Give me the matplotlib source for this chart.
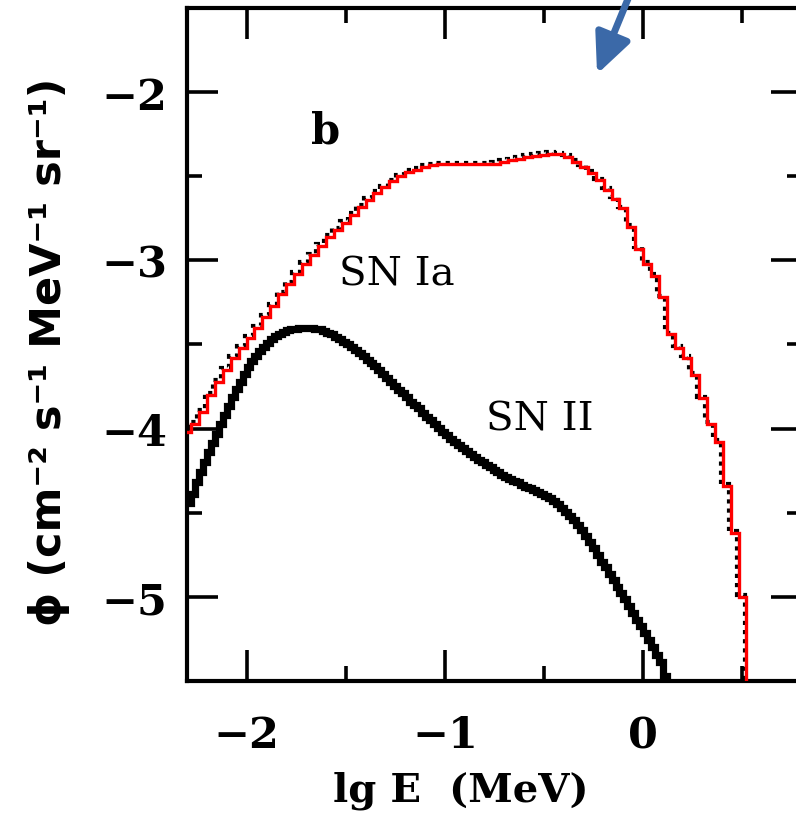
import numpy as np
import matplotlib
matplotlib.use("Agg")
import matplotlib.pyplot as plt
import matplotlib.transforms as mtransforms

# SN Ia histogram: bin edges in lg E (MeV), 0.04 dex wide
edges_ia = np.round(np.arange(-2.32, 0.561, 0.04), 3)

# SN Ia flux per bin, lg phi
sn_ia = [
    -4.02, -3.97, -3.90, -3.80, -3.72, -3.65, -3.58, -3.52, -3.46, -3.40,
    -3.335, -3.27, -3.20, -3.14, -3.08, -3.02, -2.97, -2.915, -2.86, -2.82,
    -2.775, -2.73, -2.68, -2.64, -2.60, -2.565, -2.53, -2.50, -2.475, -2.46,
    -2.445, -2.435, -2.43, -2.43, -2.43, -2.43, -2.43, -2.43, -2.43, -2.425,
    -2.415, -2.405, -2.395, -2.385, -2.378, -2.372, -2.365, -2.37, -2.385, -2.415,
    -2.445, -2.48, -2.525, -2.58, -2.635, -2.69, -2.80, -2.93, -3.02, -3.09,
    -3.22, -3.44, -3.52, -3.58, -3.68, -3.82, -3.97, -4.08, -4.34, -4.62,
    -5.00, -6.00,
]

# SN II flux per 0.02 dex bin starting at lg E = -2.30, lg phi
sn_ii = [
    -4.44, -4.39, -4.32, -4.26, -4.20, -4.14, -4.085, -4.03, -3.975, -3.92,
    -3.865, -3.815, -3.765, -3.72, -3.675, -3.635, -3.60, -3.57, -3.54, -3.515,
    -3.49, -3.47, -3.45, -3.435, -3.425, -3.415, -3.41, -3.405, -3.40, -3.40,
    -3.40, -3.40, -3.405, -3.41, -3.42, -3.43, -3.44, -3.455, -3.47, -3.485,
    -3.50, -3.515, -3.53, -3.55, -3.57, -3.59, -3.61, -3.63, -3.65, -3.675,
    -3.70, -3.72, -3.745, -3.77, -3.79, -3.815, -3.84, -3.86, -3.88, -3.905,
    -3.93, -3.95, -3.975, -3.995, -4.02, -4.04, -4.06, -4.08, -4.10, -4.115,
    -4.135, -4.15, -4.17, -4.185, -4.20, -4.215, -4.23, -4.245, -4.26, -4.275,
    -4.285, -4.30, -4.31, -4.32, -4.335, -4.345, -4.355, -4.365, -4.375, -4.39,
    -4.40, -4.415, -4.43, -4.45, -4.47, -4.495, -4.52, -4.545, -4.575, -4.605,
    -4.64, -4.675, -4.71, -4.75, -4.79, -4.825, -4.865, -4.90, -4.94, -4.975,
    -5.015, -5.055, -5.095, -5.135, -5.175, -5.215, -5.255, -5.30, -5.345, -5.39,
    -5.47, -5.60,
]
edges_ii = np.round(-2.30 + 0.02 * np.arange(len(sn_ii) + 1), 3)

x_ticks = [-2, -1, 0]
y_ticks = [-2, -3, -4, -5]

W, H, DPI = 796, 820, 100
fig = plt.figure(figsize=(W / DPI, H / DPI), dpi=DPI)
ax = fig.add_axes([187 / W, (H - 682) / H, 615 / W, 673 / H])

ax.set_xlim(-2.3, 0.8)
ax.set_ylim(-5.5, -1.5)

# SN Ia: dotted black trace with the red histogram drawn over it
shift = mtransforms.offset_copy(ax.transData, fig=fig, x=-1.2, y=1.2, units="points")
ax.stairs(sn_ia, edges_ia, baseline=None, color="black", lw=3.0,
          linestyle=(0, (1, 1.2)), transform=shift, zorder=2)
ax.stairs(sn_ia, edges_ia, baseline=None, color="#ff0000", lw=2.4, zorder=3)

# SN II: thick black histogram
ax.stairs(sn_ii, edges_ii, baseline=None, color="black", lw=5.2, zorder=2)

# Frame and ticks
for s in ax.spines.values():
    s.set_linewidth(3.0)
ax.set_xticks(x_ticks)
ax.set_yticks(y_ticks)
ax.set_xticks([-1.5, -0.5, 0.5], minor=True)
ax.set_yticks([-2.5, -3.5, -4.5], minor=True)
ax.tick_params(which="both", direction="in", top=True, right=True, width=2.6)
ax.tick_params(which="major", length=22)
ax.tick_params(which="minor", length=11)
ax.tick_params(axis="x", which="major", pad=24)
ax.tick_params(axis="y", which="major", pad=14)
ax.set_xticklabels(["\u22122", "\u22121", "0"])
ax.set_yticklabels(["\u22122", "\u22123", "\u22124", "\u22125"])
for lab in ax.get_xticklabels() + ax.get_yticklabels():
    lab.set_fontfamily("DejaVu Serif")
    lab.set_fontweight("bold")
    lab.set_fontsize(31)

ax.set_xlabel("lg E  (MeV)", fontfamily="DejaVu Serif", fontweight="bold",
              fontsize=29)
ax.xaxis.set_label_coords(0.445, -0.133)
ax.set_ylabel("\u03d5 (cm\u207b\u00b2 s\u207b\u00b9 MeV\u207b\u00b9 sr\u207b\u00b9)",
              family=["Liberation Sans Narrow", "DejaVu Sans"],
              fontweight="bold", fontsize=31)
ax.yaxis.set_label_coords(-0.19, 0.49)

# Annotations
ax.text(-1.60, -2.23, "b", fontfamily="DejaVu Serif", fontweight="bold",
        fontsize=30, ha="center", va="center")
ax.text(-1.24, -3.08, "SN Ia", fontfamily="DejaVu Serif", fontsize=29,
        ha="center", va="center")
ax.text(-0.52, -3.94, "SN II", fontfamily="DejaVu Serif", fontsize=29,
        ha="center", va="center")

ax.annotate("", xy=(-0.233, -1.893), xytext=(-0.057, -1.388),
            arrowprops=dict(arrowstyle="-|>,head_length=2.4,head_width=1.1",
                            color="#3b69a8", lw=5, shrinkA=0, shrinkB=0),
            annotation_clip=False, zorder=5)

fig.savefig("out.png", dpi=DPI)
